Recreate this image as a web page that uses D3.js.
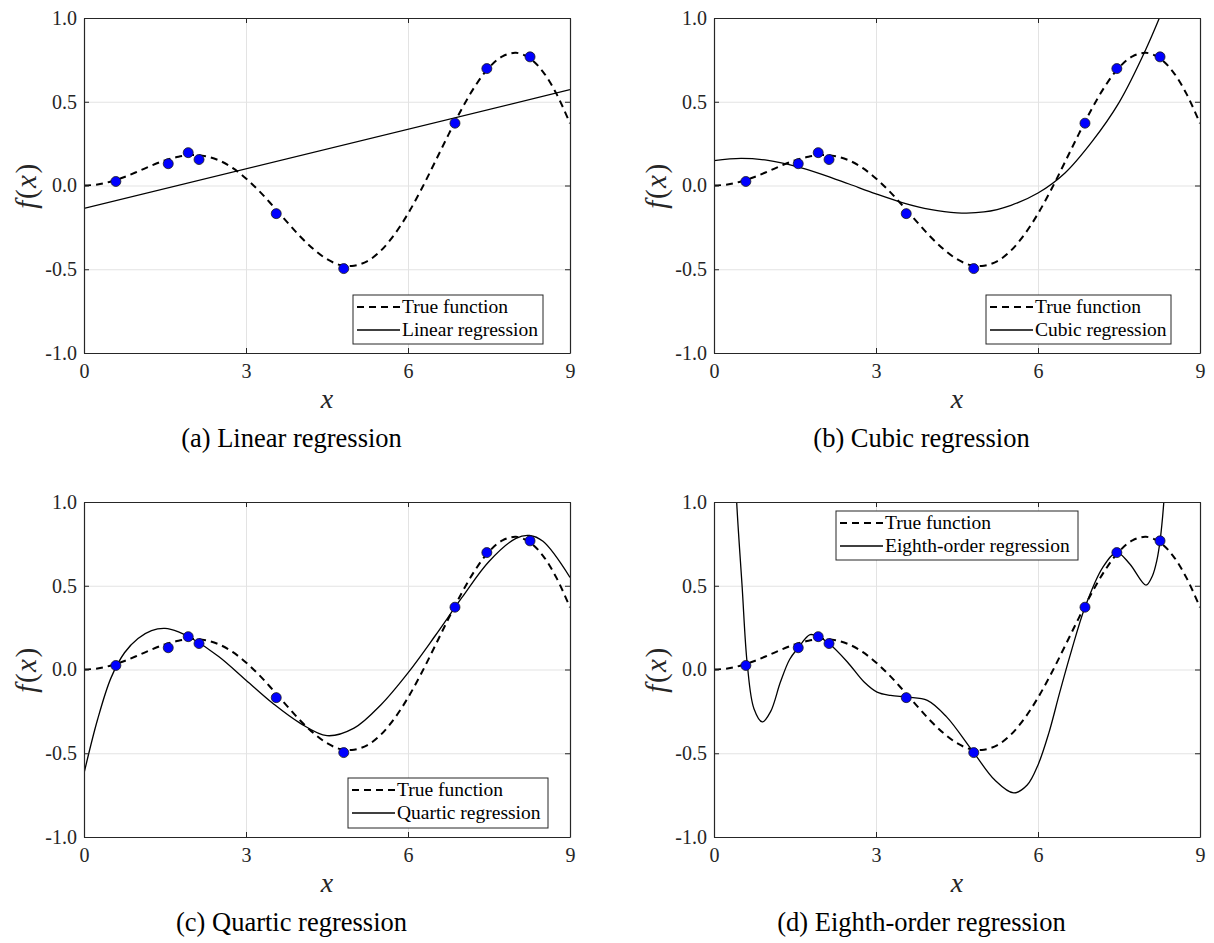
<!DOCTYPE html>
<html>
<head>
<meta charset="utf-8">
<script src="https://cdn.jsdelivr.net/npm/d3@7"></script>
<style>
body{margin:0;background:#fff;}
</style>
</head>
<body>
<svg id="chart" width="1214" height="943"></svg>
<script>
// values
var trueX = [0,0.25,0.5,0.75,1,1.25,1.5,1.75,2,2.25,2.5,2.75,3,3.25,3.5,3.75,4,4.25,4.5,4.75,5,5.25,5.5,5.75,6,6.25,6.5,6.75,7,7.25,7.5,7.75,8,8.25,8.5,8.75,9];
var trueY = [0,0.006,0.024,0.051,0.084,0.119,0.150,0.172,0.182,0.175,0.150,0.105,0.042,-0.035,-0.123,-0.214,-0.303,-0.380,-0.440,-0.475,-0.479,-0.451,-0.388,-0.292,-0.168,-0.021,0.140,0.304,0.460,0.597,0.704,0.771,0.792,0.761,0.679,0.547,0.371];

var sampleX = [0.59,1.56,1.93,2.13,3.56,4.81,6.87,7.46,8.26];
var sampleY = [0.024,0.13,0.196,0.155,-0.168,-0.496,0.372,0.698,0.768];

var linearX = [0,9];
var linearY = [-0.137,0.572];

var cubicX = [0,0.5,1,1.5,2,2.5,3,3.5,4,4.5,5,5.5,6,6.5,7,7.5,8,8.5];
var cubicY = [0.149,0.162,0.150,0.116,0.067,0.009,-0.050,-0.103,-0.143,-0.163,-0.158,-0.118,-0.045,0.075,0.262,0.495,0.815,1.2];

var quarticX = [0,0.25,0.5,0.75,1,1.25,1.5,1.75,2,2.5,3,3.5,4,4.5,5,5.5,6,6.5,7,7.5,8,8.25,8.5,9];
var quarticY = [-0.62,-0.30,-0.05,0.10,0.185,0.232,0.245,0.225,0.185,0.076,-0.064,-0.203,-0.32,-0.395,-0.35,-0.21,-0.02,0.2,0.43,0.645,0.783,0.80,0.765,0.55];

var eighthX = [0.38,0.42,0.52,0.617,0.74,0.895,1.05,1.23,1.4,1.56,1.78,1.93,2.13,2.47,2.78,3.02,3.27,3.58,3.95,4.3,4.81,5.2,5.55,5.8,6.0,6.2,6.4,6.6,6.87,7.2,7.46,7.7,8.0,8.12,8.2,8.26,8.33,8.38];
var eighthY = [1.35,1.0,0.5,0.029,-0.234,-0.313,-0.25,-0.075,0.06,0.13,0.208,0.196,0.155,0.045,-0.075,-0.135,-0.155,-0.165,-0.184,-0.28,-0.496,-0.66,-0.737,-0.69,-0.57,-0.38,-0.14,0.09,0.372,0.61,0.698,0.63,0.504,0.56,0.65,0.768,1.0,1.3];

var xTicks = [0,3,6,9];
var yTicks = [-1,-0.5,0,0.5,1];
var yTickLabels = ["-1.0","-0.5","0.0","0.5","1.0"];
var captions = ["(a) Linear regression","(b) Cubic regression","(c) Quartic regression","(d) Eighth-order regression"];
var fitNames = ["Linear regression","Cubic regression","Quartic regression","Eighth-order regression"];

var W = 486, H = 335;
var SERIF = "Liberation Serif, Times New Roman, Times, Tinos, Nimbus Roman, FreeSerif, Noto Serif, DejaVu Serif, serif";
var panels = [
    {left:84,  top:18,  fx:linearX,  fy:linearY,  legend:{x:269, y:277, w:190, h:49}},
    {left:714, top:18,  fx:cubicX,   fy:cubicY,   legend:{x:272, y:277, w:185, h:49}},
    {left:84,  top:502, fx:quarticX, fy:quarticY, legend:{x:264, y:276, w:200, h:50}},
    {left:714, top:502, fx:eighthX,  fy:eighthY,  legend:{x:122, y:9,   w:242, h:49}}
];

var svg = d3.select("#chart").style("font-family", SERIF);
var x = d3.scaleLinear().domain([0,9]).range([0,W]);
var y = d3.scaleLinear().domain([-1,1]).range([H,0]);

function DrawPanel(p, i)
{
    var g = svg.append("g").attr("transform", "translate(" + p.left + "," + p.top + ")");

    g.append("clipPath").attr("id", "clip" + i)
        .append("rect").attr("width", W).attr("height", H);

    // grid
    var gx = g.append("g").attr("transform", "translate(0," + H + ")")
        .call(d3.axisBottom(x).tickValues(xTicks).tickSize(-H).tickFormat(""));
    var gy = g.append("g")
        .call(d3.axisLeft(y).tickValues(yTicks).tickSize(-W).tickFormat(""));
    [gx, gy].forEach(function(s){
        s.select(".domain").remove();
        s.selectAll("line").attr("stroke", "#e3e3e3");
    });

    var line = d3.line()
        .x(d => x(d[0]))
        .y(d => y(d[1]))
        .curve(d3.curveCatmullRom.alpha(0.5));

    var plot = g.append("g").attr("clip-path", "url(#clip" + i + ")");

    plot.append("path")
        .datum(d3.zip(trueX, trueY))
        .attr("d", line)
        .attr("fill", "none")
        .attr("stroke", "#000")
        .attr("stroke-width", 2)
        .attr("stroke-dasharray", "7,5");

    plot.append("path")
        .datum(d3.zip(p.fx, p.fy))
        .attr("d", line)
        .attr("fill", "none")
        .attr("stroke", "#000")
        .attr("stroke-width", 1.3);

    g.append("g").selectAll("circle")
        .data(d3.zip(sampleX, sampleY))
        .enter().append("circle")
        .attr("cx", d => x(d[0]))
        .attr("cy", d => y(d[1]))
        .attr("r", 5)
        .attr("fill", "#0000ff")
        .attr("stroke", "#1a1a1a")
        .attr("stroke-width", 0.8);

    // axes with inward ticks
    var axes = [];
    axes.push(g.append("g").attr("transform", "translate(0," + H + ")")
        .call(d3.axisBottom(x).tickValues(xTicks).tickSize(-5).tickSizeOuter(0).tickPadding(11).tickFormat(d3.format("d"))));
    axes.push(g.append("g")
        .call(d3.axisLeft(y).tickValues(yTicks).tickSize(-5).tickSizeOuter(0).tickPadding(7).tickFormat((d, k) => yTickLabels[k])));
    axes.push(g.append("g")
        .call(d3.axisTop(x).tickValues(xTicks).tickSize(-5).tickSizeOuter(0).tickFormat("")));
    axes.push(g.append("g").attr("transform", "translate(" + W + ",0)")
        .call(d3.axisRight(y).tickValues(yTicks).tickSize(-5).tickSizeOuter(0).tickFormat("")));
    axes.forEach(function(a){
        a.attr("font-family", null).attr("font-size", 20);
        a.select(".domain").attr("stroke", "#262626").attr("stroke-width", 1.2);
        a.selectAll(".tick line").attr("stroke", "#262626");
        a.selectAll(".tick text").attr("fill", "#262626").style("font-family", SERIF);
    });

    // axis labels
    g.append("text")
        .attr("x", W / 2).attr("y", H + 55)
        .attr("text-anchor", "middle")
        .attr("font-size", 28)
        .attr("font-style", "italic")
        .attr("fill", "#262626")
        .style("font-family", SERIF)
        .text("x");

    var yl = g.append("text")
        .attr("transform", "translate(-48," + (H / 2) + ") rotate(-90)")
        .attr("text-anchor", "middle")
        .attr("font-size", 29)
        .attr("letter-spacing", 1.5)
        .attr("fill", "#262626")
        .style("font-family", SERIF);
    yl.append("tspan").attr("font-style", "italic").text("f");
    yl.append("tspan").text("(");
    yl.append("tspan").attr("font-style", "italic").text("x");
    yl.append("tspan").text(")");

    // caption
    g.append("text")
        .attr("x", W / 2 - 35.5).attr("y", H + 94)
        .attr("text-anchor", "middle")
        .attr("font-size", 26.5)
        .attr("fill", "#000")
        .style("font-family", SERIF)
        .text(captions[i]);

    // legend
    var lg = g.append("g").attr("transform", "translate(" + p.legend.x + "," + p.legend.y + ")");
    lg.append("rect")
        .attr("width", p.legend.w).attr("height", p.legend.h)
        .attr("fill", "#fff").attr("stroke", "#262626").attr("stroke-width", 1);
    var rows = [{name:"True function", dash:"7,5", sw:2}, {name:fitNames[i], dash:null, sw:1.3}];
    rows.forEach(function(r, k){
        var cy = 12 + k * 23;
        lg.append("line")
            .attr("x1", 4).attr("x2", 47).attr("y1", cy).attr("y2", cy)
            .attr("stroke", "#000").attr("stroke-width", r.sw)
            .attr("stroke-dasharray", r.dash);
        lg.append("text")
            .attr("x", 49).attr("y", cy + 6)
            .attr("font-size", 19.5)
            .attr("fill", "#000")
            .style("font-family", SERIF)
            .text(r.name);
    });
}

panels.forEach(DrawPanel);
</script>
</body>
</html>
